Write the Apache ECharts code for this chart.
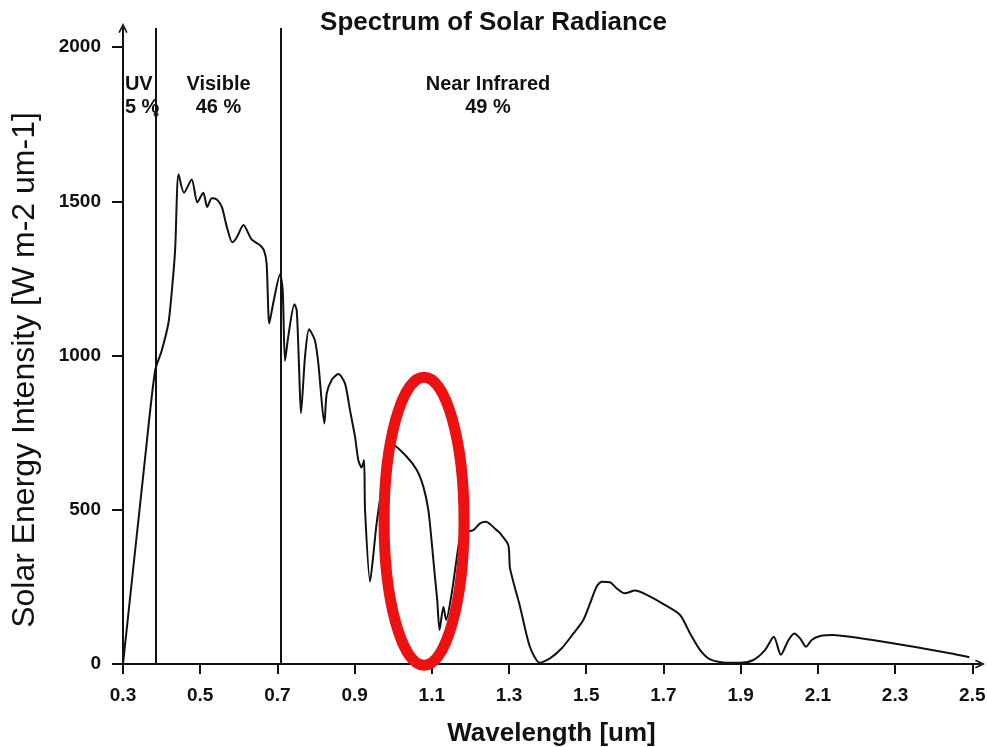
<!DOCTYPE html>
<html>
<head>
<meta charset="utf-8">
<script src="https://cdn.jsdelivr.net/npm/echarts@6/dist/echarts.min.js"></script>
<style>
  html, body { margin: 0; padding: 0; background: #fff; }
  #chart { width: 987px; height: 747px; }
</style>
</head>
<body>
<div id="chart"></div>
<script>
// Solar spectral irradiance, wavelength in micrometres
const wavelength = [
  0.300, 0.357, 0.383, 0.400, 0.4175, 0.426, 0.435, 0.444, 0.458, 0.478, 0.4925,
  0.508, 0.518, 0.530, 0.543, 0.556, 0.569, 0.583, 0.5945, 0.612, 0.633,
  0.655, 0.665, 0.672, 0.679, 0.689, 0.707, 0.7137, 0.7197, 0.728, 0.744,
  0.750, 0.756, 0.761, 0.7715, 0.782, 0.797, 0.806, 0.8216, 0.8277, 0.8406,
  0.858, 0.875, 0.888, 0.901, 0.9096, 0.918, 0.9244, 0.927, 0.940, 0.948,
  0.957, 0.975, 1.000, 1.035, 1.061, 1.078, 1.091, 1.100, 1.108, 1.114,
  1.120, 1.130, 1.137, 1.1515, 1.1687, 1.1774, 1.190, 1.2075, 1.225, 1.240,
  1.268, 1.2767, 1.298, 1.3026, 1.3285, 1.354, 1.380, 1.406, 1.4365, 1.4667,
  1.4925, 1.510, 1.527, 1.540, 1.5617, 1.579, 1.600, 1.6264, 1.657, 1.700,
  1.743, 1.769, 1.795, 1.821, 1.864, 1.900, 1.933, 1.963, 1.986, 2.004,
  2.024, 2.039, 2.054, 2.0694, 2.084, 2.106, 2.140, 2.184, 2.270, 2.356,
  2.442, 2.4925
];
const intensity = [
  0, 665, 950, 1015, 1104, 1202, 1342, 1588, 1528, 1571, 1497,
  1528, 1482, 1510, 1506, 1482, 1417, 1367, 1383, 1423, 1377,
  1358, 1342, 1299, 1104, 1169, 1264, 1212, 983, 1061, 1166,
  1147, 964, 813, 996, 1085, 1050, 975, 780, 877, 921,
  940, 910, 823, 737, 661, 637, 661, 499, 267, 348,
  456, 600, 710, 672, 629, 575, 499, 391, 283, 207,
  110, 186, 143, 229, 380, 429, 430, 434, 456, 461,
  434, 424, 386, 310, 186, 56, 4, 18, 51, 99,
  143, 197, 251, 267, 265, 245, 229, 238, 224, 194,
  159, 99, 45, 15, 4, 4, 13, 45, 88, 30,
  78, 99, 83, 56, 78, 91, 94, 88, 72, 54,
  35, 22
];

// Band boundaries (um) and band labels
const bandEdges = [0.3855, 0.709];
const bandTop = 2062;
const bandNames = ['UV\n5 %', 'Visible\n46 %', 'Near Infrared\n49 %'];
const bandLabelX = [0.305, 0.5474, 1.2456];
const bandLabelAlign = ['left', 'center', 'center'];
const bandLabelY = 1840;

// Tick labels
const xTicks = [0.3, 0.5, 0.7, 0.9, 1.1, 1.3, 1.5, 1.7, 1.9, 2.1, 2.3, 2.5];
const yTicks = [0, 500, 1000, 1500, 2000];

// Highlight ring: centre (um, W m-2 um-1) and radii in the same units
const ring = [1.0798, 463, 0.1036, 467];

const spectrum = wavelength.map((w, i) => [w, intensity[i]]);
const FONT = '"Liberation Sans", Arial, sans-serif';
// open chevron used as the axis arrow head
const chevron = 'path://M0,10 L5,0 L10,10 L8.4,10.9 L5,3.8 L1.6,10.9 Z';

const chart = echarts.init(document.getElementById('chart'), null, { renderer: 'canvas' });
chart.setOption({
  animation: false,
  backgroundColor: '#ffffff',
  title: {
    text: 'Spectrum of Solar Radiance',
    left: 'center',
    top: 10,
    padding: 0,
    textStyle: { fontFamily: FONT, fontSize: 26, fontWeight: 'bold', color: '#111' }
  },
  grid: { left: 123, right: 7, top: 28, bottom: 83, outerBoundsMode: 'none', containLabel: false },
  xAxis: {
    type: 'value',
    min: 0.3,
    max: 2.52,
    name: 'Wavelength [um]',
    nameLocation: 'middle',
    nameGap: 57,
    nameTextStyle: { fontFamily: FONT, fontSize: 26, fontWeight: 'bold', color: '#111' },
    axisLine: { show: true, symbol: ['none', chevron], symbolSize: [12, 10], lineStyle: { color: '#111', width: 2 } },
    axisTick: { show: true, inside: false, length: 10, customValues: xTicks, lineStyle: { color: '#111', width: 2 } },
    axisLabel: {
      customValues: xTicks,
      margin: 22,
      formatter: v => v.toFixed(1),
      fontFamily: FONT, fontSize: 19, fontWeight: 'bold', color: '#111'
    },
    splitLine: { show: false }
  },
  yAxis: {
    type: 'value',
    min: 0,
    max: bandTop,
    name: 'Solar Energy Intensity [W m-2 um-1]',
    nameLocation: 'middle',
    nameRotate: 90,
    nameGap: 82,
    nameTextStyle: { fontFamily: FONT, fontSize: 32, color: '#111', padding: [0, 48, 0, 0] },
    axisLine: { show: true, symbol: ['none', chevron], symbolSize: [12, 10], lineStyle: { color: '#111', width: 2 } },
    axisTick: { show: true, inside: false, length: 11, customValues: yTicks, lineStyle: { color: '#111', width: 2 } },
    axisLabel: {
      customValues: yTicks,
      margin: 22,
      formatter: v => String(v),
      fontFamily: FONT, fontSize: 19, fontWeight: 'bold', color: '#111'
    },
    splitLine: { show: false }
  },
  series: [
    {
      type: 'line',
      data: spectrum,
      showSymbol: false,
      smooth: 0.25,
      lineStyle: { color: '#111', width: 2 },
      z: 3,
      markLine: {
        silent: true,
        symbol: ['none', 'none'],
        label: { show: false },
        lineStyle: { color: '#111', width: 2, type: 'solid' },
        data: bandEdges.map(x => [{ coord: [x, 0] }, { coord: [x, bandTop] }])
      }
    },
    {
      // band names, placed in data coordinates
      type: 'custom',
      z: 4,
      silent: true,
      data: bandNames.map((n, i) => [bandLabelX[i], bandLabelY, i]),
      renderItem: (params, api) => {
        const p = api.coord([api.value(0), api.value(1)]);
        const i = api.value(2);
        return {
          type: 'text',
          x: p[0],
          y: p[1],
          style: {
            text: bandNames[i],
            font: 'bold 20px ' + FONT,
            lineHeight: 23,
            fill: '#111',
            align: bandLabelAlign[i],
            verticalAlign: 'middle'
          }
        };
      }
    },
    {
      type: 'scatter',
      symbol: 'circle',
      symbolSize: 5,
      itemStyle: { color: '#111' },
      data: [[bandEdges[0], 1782]],
      z: 4
    },
    {
      type: 'custom',
      z: 10,
      clip: false,
      silent: true,
      data: [ring],
      renderItem: (params, api) => {
        const c = api.coord([api.value(0), api.value(1)]);
        const s = api.size([api.value(2), api.value(3)]);
        return {
          type: 'ellipse',
          shape: { cx: c[0], cy: c[1], rx: s[0], ry: s[1] },
          style: { fill: 'none', stroke: '#ee1111', lineWidth: 11 }
        };
      }
    }
  ]
});
</script>
</body>
</html>
